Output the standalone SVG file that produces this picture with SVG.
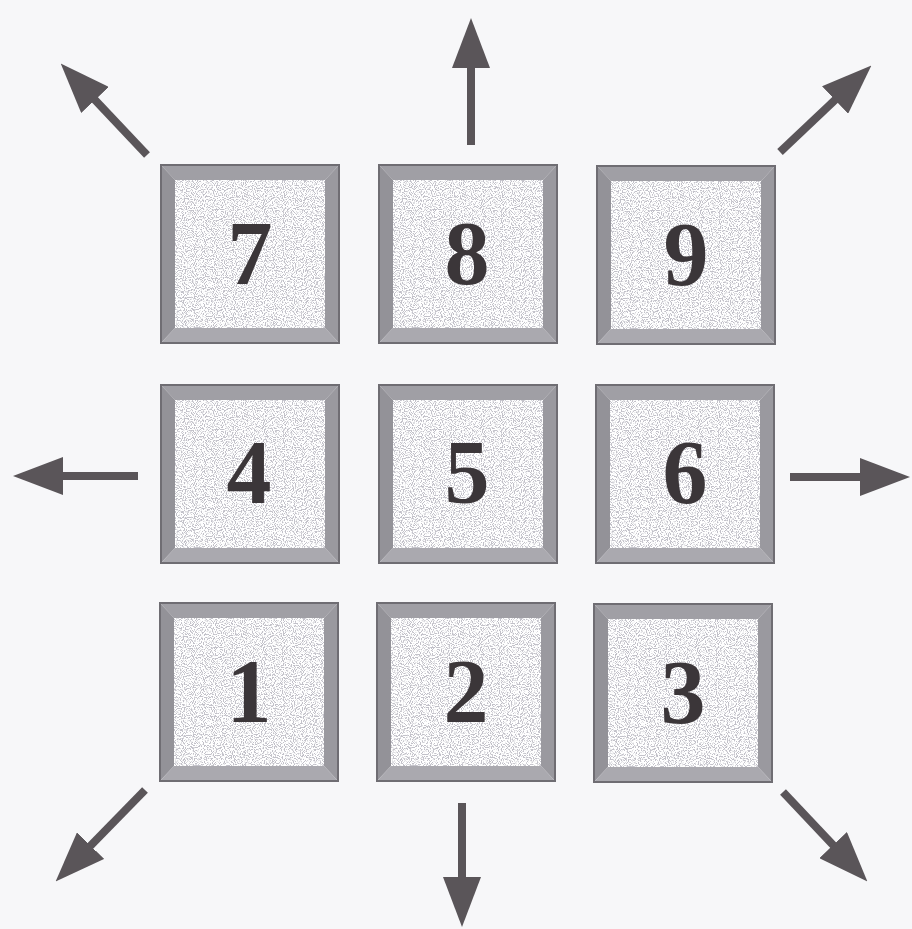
<svg xmlns="http://www.w3.org/2000/svg" width="912" height="929" viewBox="0 0 912 929">
<defs>
<style>
.face{fill:#c2c1c9}
.bt{fill:#a09fa5}
.bl{fill:#939298}
.br{fill:#9a999f}
.bb{fill:#aaa9af}
.edge{fill:none;stroke:#6f6d73;stroke-width:2}
.num{font-family:"Liberation Serif","Times New Roman",serif;font-weight:bold;font-size:90px;fill:#3b3639;text-anchor:middle}
.arr{stroke:#5a5559;stroke-width:8;fill:none;marker-end:url(#ah)}
</style>
<marker id="ah" markerUnits="userSpaceOnUse" viewBox="0 0 50 38" refX="35" refY="19" markerWidth="50" markerHeight="38" orient="auto">
<path d="M0,0 L50,19 L0,38 Z" fill="#5a5559"/>
</marker>
<filter id="speck" x="0" y="0" width="100%" height="100%">
<feTurbulence type="fractalNoise" baseFrequency="0.9" numOctaves="1" seed="3" result="n"/>
<feColorMatrix in="n" type="matrix" values="0 0 0 0 1  0 0 0 0 1  0 0 0 0 1  0 0 0 -9 5.4" result="w"/>
<feComposite in="w" in2="SourceGraphic" operator="in" result="wm"/>
<feMerge><feMergeNode in="SourceGraphic"/><feMergeNode in="wm"/></feMerge>
</filter>
<g id="tile">
<rect class="face" x="15" y="16" width="150" height="148" filter="url(#speck)"/>
<polygon class="bt" points="0,0 180,0 165,16 15,16"/>
<polygon class="bl" points="0,0 15,16 15,164 0,180"/>
<polygon class="br" points="180,0 180,180 165,164 165,16"/>
<polygon class="bb" points="0,180 15,164 165,164 180,180"/>
<rect class="edge" x="1" y="1" width="178" height="178"/>
</g>
</defs>
<rect width="912" height="929" fill="#f7f7f9"/>
<g id="connectors">
<line class="arr" x1="147" y1="155" x2="71" y2="74.5"/>
<line class="arr" x1="471" y1="145" x2="471" y2="33"/>
<line class="arr" x1="780" y1="152" x2="860.5" y2="75.9"/>
<line class="arr" x1="138" y1="476" x2="28" y2="476"/>
<line class="arr" x1="790" y1="477" x2="895" y2="477"/>
<line class="arr" x1="145" y1="790" x2="66.1" y2="870.7"/>
<line class="arr" x1="462" y1="803" x2="462" y2="912"/>
<line class="arr" x1="783" y1="792" x2="857.1" y2="870.5"/>
</g>
<g id="n7"><use href="#tile" x="160" y="164"/><text class="num" x="250" y="284">7</text></g>
<g id="n8"><use href="#tile" x="378" y="164"/><text class="num" x="467" y="284">8</text></g>
<g id="n9"><use href="#tile" x="596" y="165"/><text class="num" x="686" y="285">9</text></g>
<g id="n4"><use href="#tile" x="160" y="384"/><text class="num" x="249" y="503">4</text></g>
<g id="n5"><use href="#tile" x="378" y="384"/><text class="num" x="467" y="503">5</text></g>
<g id="n6"><use href="#tile" x="595" y="384"/><text class="num" x="685" y="503">6</text></g>
<g id="n1"><use href="#tile" x="159" y="602"/><text class="num" x="249" y="722">1</text></g>
<g id="n2"><use href="#tile" x="376" y="602"/><text class="num" x="466" y="722">2</text></g>
<g id="n3"><use href="#tile" x="593" y="603"/><text class="num" x="683" y="723">3</text></g>
</svg>
